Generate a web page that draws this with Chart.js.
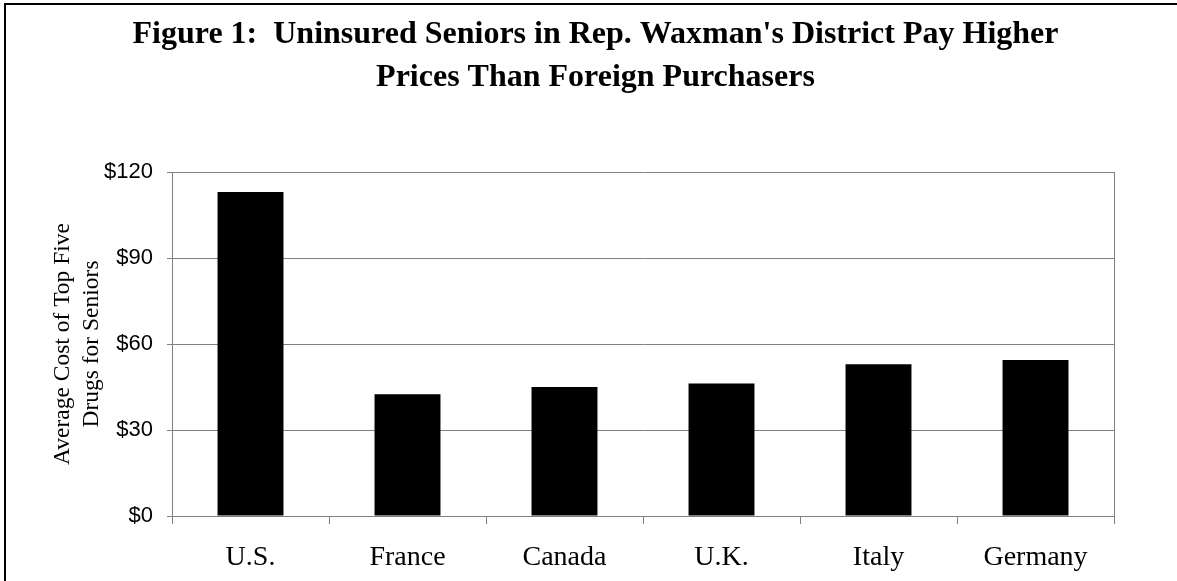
<!DOCTYPE html>
<html>
<head>
<meta charset="utf-8">
<script src="https://cdn.jsdelivr.net/npm/chart.js@4.4.1/dist/chart.umd.min.js"></script>
<style>
  html, body { margin: 0; padding: 0; background: #fff; overflow: hidden; }
  canvas { display: block; }
</style>
</head>
<body>
<canvas id="bar-chart" width="1177" height="581"></canvas>
<script>
// Daten
var laender = ["U.S.", "France", "Canada", "U.K.", "Italy", "Germany"];
var kosten = [113, 42.5, 45, 46.2, 52.9, 54.4];          // Durchschnittskosten in $
var titelZeilen = ["Figure 1:  Uninsured Seniors in Rep. Waxman's District Pay Higher",
                   "Prices Than Foreign Purchasers"];
var achsenTitel = ["Average Cost of Top Five", "Drugs for Seniors"];
var yMax = 120;
var yStep = 30;

var grau = "#808080";
var serif = "'Liberation Serif', 'Times New Roman', serif";

// Rahmen oben und links (rechts und unten abgeschnitten)
var rahmenPlugin = {
    id: "rahmen",
    beforeDraw: function(chart) {
        var ctx = chart.ctx;
        ctx.save();
        ctx.fillStyle = "#000";
        ctx.fillRect(4, 3, chart.width, 2);
        ctx.fillRect(4, 3, 2, chart.height);
        ctx.restore();
    }
};

window.onload = function() {
    new Chart(document.getElementById("bar-chart"), {
        type: 'bar',
        data: {
            labels: laender,
            datasets: [{
                data: kosten,
                backgroundColor: "#000000",
                borderWidth: 0,
                barPercentage: 0.42,
                categoryPercentage: 1.0
            }]
        },
        options: {
            responsive: false,
            animation: false,
            layout: { padding: { left: 14, right: 0, top: 0, bottom: 0 } },
            plugins: {
                legend: { display: false },
                tooltip: { enabled: false },
                title: {
                    display: true,
                    text: titelZeilen,
                    color: "#000",
                    font: { family: serif, size: 32, weight: 'bold', lineHeight: 43 / 32 },
                    padding: { top: 13, bottom: 73 }
                }
            },
            scales: {
                x: {
                    grid: { display: true, drawOnChartArea: false, drawTicks: true, tickLength: 8, color: grau, offset: true },
                    border: { display: true, color: grau },
                    ticks: { color: "#000", padding: 17, font: { family: serif, size: 28 } },
                    afterFit: function(axis) { axis.height = 65; }
                },
                y: {
                    min: 0,
                    max: yMax,
                    ticks: {
                        stepSize: yStep,
                        color: "#000",
                        padding: 14,
                        font: { family: "'Liberation Sans', Arial, sans-serif", size: 22 },
                        callback: function(v) { return "$" + v; }
                    },
                    grid: { color: grau, tickLength: 5, drawTicks: true },
                    border: { display: true, color: grau },
                    title: {
                        display: true,
                        text: achsenTitel,
                        color: "#000",
                        font: { family: serif, size: 23.5, lineHeight: 29 / 23.5 },
                        padding: { top: 34, bottom: 0 }
                    },
                    afterFit: function(axis) { axis.width = 158; }
                },
                // rechte Kante des Plotbereichs
                y2: {
                    position: 'right',
                    min: 0,
                    max: yMax,
                    grid: { display: false },
                    ticks: { display: false },
                    border: { display: true, color: grau },
                    afterFit: function(axis) { axis.width = 63; }
                }
            }
        },
        plugins: [rahmenPlugin]
    });
};
</script>
</body>
</html>
